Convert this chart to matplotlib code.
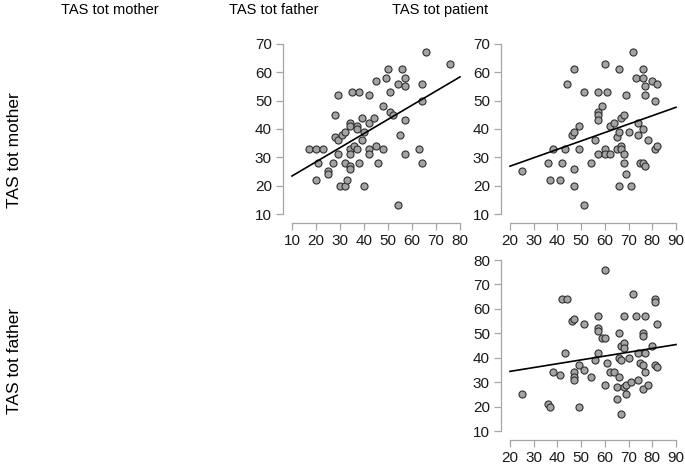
import numpy as np
import matplotlib
matplotlib.use("Agg")
import matplotlib.pyplot as plt

# panel mother (y) vs father (x)
father_a = [17, 20, 23, 20, 21, 25, 25, 27, 28, 29, 28, 29, 29, 30, 31, 32, 32, 32, 33, 34,
            34, 34, 34, 34, 34, 35, 36, 37, 37, 37, 38, 38, 39, 39, 40, 40, 42, 42, 42, 42,
            44, 45, 45, 46, 48, 48, 49, 50, 51, 51, 52, 54, 54, 55, 56, 57, 57, 57, 57, 63,
            64, 64, 64, 66, 76]
mother_a = [33, 33, 33, 22, 28, 25, 24, 28, 45, 52, 37, 36, 31, 20, 38, 39, 28, 20, 22, 42,
            41, 33, 31, 27, 26, 53, 34, 41, 40, 33, 53, 28, 44, 36, 39, 20, 52, 42, 33, 31,
            44, 57, 34, 28, 48, 33, 58, 61, 53, 46, 45, 56, 13, 38, 61, 58, 55, 43, 31, 33,
            56, 50, 28, 67, 63]

# panel mother (y) vs patient (x)
patient_b = [25, 36, 37, 38, 41, 42, 43, 44, 46, 47, 47, 47, 47, 49, 49, 51, 51, 54, 56, 57,
             57, 57, 57, 57, 59, 60, 60, 60, 61, 62, 62, 64, 65, 65, 66, 66, 66, 67, 67, 67,
             68, 68, 68, 69, 69, 70, 71, 72, 73, 74, 74, 75, 76, 76, 76, 76, 77, 77, 77, 78,
             80, 81, 81, 82, 82]
mother_b = [25, 28, 22, 33, 22, 28, 33, 56, 38, 39, 61, 26, 20, 41, 33, 53, 13, 28, 36, 53,
            46, 45, 43, 31, 48, 63, 33, 31, 53, 41, 31, 42, 37, 33, 61, 39, 20, 44, 34, 33,
            45, 31, 28, 52, 24, 39, 20, 67, 58, 42, 38, 28, 61, 58, 40, 28, 55, 52, 27, 36,
            57, 50, 33, 56, 34]

# panel father (y) vs patient (x)
patient_c = [25, 36, 37, 38, 41, 42, 43, 44, 46, 47, 47, 47, 47, 49, 49, 51, 51, 54, 56, 57,
             57, 57, 57, 59, 60, 60, 60, 61, 62, 64, 65, 65, 66, 66, 66, 67, 67, 67, 68, 68,
             68, 68, 69, 69, 70, 71, 72, 73, 74, 74, 75, 76, 76, 76, 76, 77, 77, 77, 78, 80,
             81, 81, 81, 82, 82]
father_c = [25, 21, 20, 34, 33, 64, 42, 64, 55, 56, 34, 32, 31, 37, 20, 54, 35, 32, 39, 57,
            52, 51, 42, 48, 76, 48, 29, 38, 34, 34, 28, 23, 50, 40, 32, 45, 39, 17, 46, 44,
            57, 28, 29, 25, 40, 30, 66, 57, 42, 31, 38, 50, 49, 37, 27, 57, 42, 34, 29, 45,
            64, 63, 37, 54, 36]

variables = ["TAS tot mother", "TAS tot father", "TAS tot patient"]
mother_ticks = [10, 20, 30, 40, 50, 60, 70]
father_ticks = [10, 20, 30, 40, 50, 60, 70, 80]
patient_ticks = [20, 30, 40, 50, 60, 70, 80, 90]

W, H = 685, 465
AXIS_GREY = "#a6a6a6"

plt.rcParams["font.family"] = ["Liberation Sans", "DejaVu Sans"]


def add_panel(fig, box, x, y, xticks, yticks):
    """box is (left, top, right, bottom) in pixels; ticks sit 9px inside the box."""
    left, top, right, bottom = box
    ax = fig.add_axes([left / W, 1 - bottom / H, (right - left) / W, (bottom - top) / H])
    pad = 9
    xs = (xticks[-1] - xticks[0]) / (right - left - 2 * pad)
    ys = (yticks[-1] - yticks[0]) / (bottom - top - 2 * pad)
    ax.set_xlim(xticks[0] - pad * xs, xticks[-1] + pad * xs)
    ax.set_ylim(yticks[0] - pad * ys, yticks[-1] + pad * ys)

    ax.scatter(x, y, s=26, c="#a3a3a3", edgecolors="#303030", linewidths=0.8, zorder=3)
    slope, icpt = np.polyfit(x, y, 1)
    xl = np.array([xticks[0], xticks[-1]])
    ax.plot(xl, icpt + slope * xl, color="black", lw=1.2, zorder=4)

    for s in ("top", "right"):
        ax.spines[s].set_visible(False)
    ax.spines["bottom"].set_bounds(xticks[0], xticks[-1])
    ax.spines["left"].set_bounds(yticks[0], yticks[-1])
    for s in ("bottom", "left"):
        ax.spines[s].set_color(AXIS_GREY)
        ax.spines[s].set_linewidth(0.9)
    ax.set_xticks(xticks)
    ax.set_yticks(yticks)
    ax.tick_params(length=5, width=0.9, color=AXIS_GREY, labelsize=11,
                   labelcolor="#1a1a1a")
    ax.tick_params(axis="x", pad=3)
    ax.tick_params(axis="y", pad=3)
    ax.patch.set_alpha(0)
    return ax


fig = plt.figure(figsize=(W / 100, H / 100), dpi=100)

add_panel(fig, (283, 35, 469, 223), father_a, mother_a, father_ticks, mother_ticks)
add_panel(fig, (501, 35, 685, 223), patient_b, mother_b, patient_ticks, mother_ticks)
add_panel(fig, (501, 251, 685, 440), patient_c, father_c, patient_ticks, father_ticks)

for name, xc in zip(variables, [110, 274, 440]):
    fig.text(xc / W, 1 - 10 / H, name, ha="center", va="center", fontsize=10.5)
for name, yc in zip(variables[:2], [150, 361]):
    fig.text(15 / W, 1 - yc / H, name, ha="center", va="center", rotation=90, fontsize=12.5)

fig.savefig("out.png", dpi=100)
